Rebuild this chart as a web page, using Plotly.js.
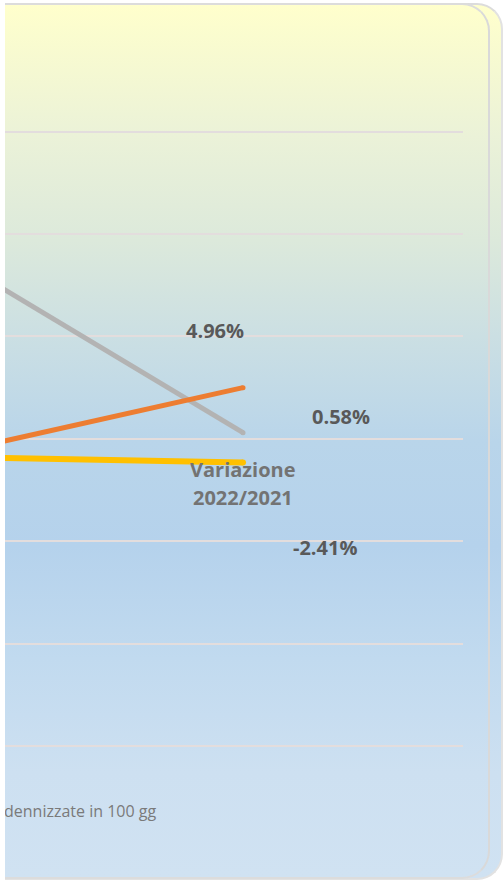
<!DOCTYPE html>
<html>
<head>
<meta charset="utf-8">
<script src="https://cdn.plot.ly/plotly-3.0.1.min.js"></script>
<style>
  html, body { margin: 0; padding: 0; background: #ffffff; width: 503px; height: 882px; overflow: hidden; }
  .panel {
    position: absolute;
    background: linear-gradient(to bottom,
      #FFFFCC 0%, #EBF2D8 15%, #DCE9DB 27%, #CBDFE3 38%, #B9D5EA 50%,
      #B5D2EC 62%, #C1DAEF 75%, #CDE0F1 88%, #D0E2F2 100%);
    box-sizing: border-box;
  }
  #outer {
    left: 5px; top: 3px; width: 498px; height: 877px;
    border-top: 2px solid #DCDCDC; border-bottom: 2px solid #E2E2E2; border-right: 2px solid #E2E2E2;
    border-top-right-radius: 26px; border-bottom-right-radius: 26px;
  }
  #inner {
    left: 5px; top: 3px; width: 485px; height: 876px;
    border-top: 2px solid #DCDCDC; border-bottom: 2px solid #DCDCDC; border-right: 2px solid #D9D9D9;
    border-top-right-radius: 28px; border-bottom-right-radius: 28px;
  }
  #chart { position: absolute; left: 5px; top: 0; width: 498px; height: 882px; overflow: hidden; }
</style>
</head>
<body>
<div id="outer" class="panel"></div>
<div id="inner" class="panel"></div>
<div id="chart"></div>
<script>
// ---- data ----
const categories = ["2021", "2022"];
const greySeries = [5.64, 3.06];
const orangeSeries = [2.54, 3.50];
const yellowSeries = [2.85, 2.77];
const variationLabels = ["4.96%", "0.58%", "-2.41%"];
const variationHeader = ["Variazione", "2022/2021"];
const legendLabel = "dennizzate in 100 gg";

const xIdx = categories.map((c, i) => i);

function series(values, color, w) {
  return {
    x: xIdx, y: values, type: "scatter", mode: "lines+markers",
    line: { color: color, width: w },
    marker: { color: color, size: w, line: { width: 0 } },
    hoverinfo: "skip", showlegend: false
  };
}

const data = [
  series(greySeries, "#B3B3B3", 5),
  series(orangeSeries, "#ED7D31", 5),
  series(yellowSeries, "#FFC000", 6)
];

const pctFont = { family: "Open Sans, sans-serif", size: 20, color: "#595959", weight: 700 };
const hdrFont = { family: "Open Sans, sans-serif", size: 20, color: "#737373", weight: 700 };

const pctPos = [[0.936, 4.06], [1.223, 3.22], [1.186, 1.94]];
const hdrPos = [[1, 2.70], [1, 2.43]];

const annotations = variationLabels.map((t, i) => ({
  x: pctPos[i][0], y: pctPos[i][1], xref: "x", yref: "y",
  text: t, showarrow: false, font: pctFont, xanchor: "center", yanchor: "middle"
}));
variationHeader.forEach((t, i) => annotations.push({
  x: hdrPos[i][0], y: hdrPos[i][1], xref: "x", yref: "y",
  text: t, showarrow: false, font: hdrFont, xanchor: "center", yanchor: "middle"
}));
annotations.push({
  x: 0, y: -0.08, xref: "paper", yref: "paper", xshift: -3,
  text: legendLabel, showarrow: false, xanchor: "left", yanchor: "middle",
  font: { family: "Open Sans, sans-serif", size: 16, color: "#7A7A7A" }
});

const layout = {
  width: 498, height: 882,
  margin: { l: 0, r: 40, t: 120, b: 122 },
  paper_bgcolor: "rgba(0,0,0,0)", plot_bgcolor: "rgba(0,0,0,0)",
  showlegend: false,
  xaxis: {
    type: "linear", range: [0.459, 1.5],
    showgrid: false, zeroline: false, showline: false, showticklabels: false, ticks: ""
  },
  yaxis: {
    range: [-0.1367, 6.1145], tick0: 0, dtick: 1,
    showgrid: true, gridcolor: "#E3DDDD", gridwidth: 2,
    zeroline: false, showline: false, showticklabels: false, ticks: ""
  },
  annotations: annotations
};

Plotly.newPlot("chart", data, layout, { displayModeBar: false, staticPlot: true });
</script>
</body>
</html>
